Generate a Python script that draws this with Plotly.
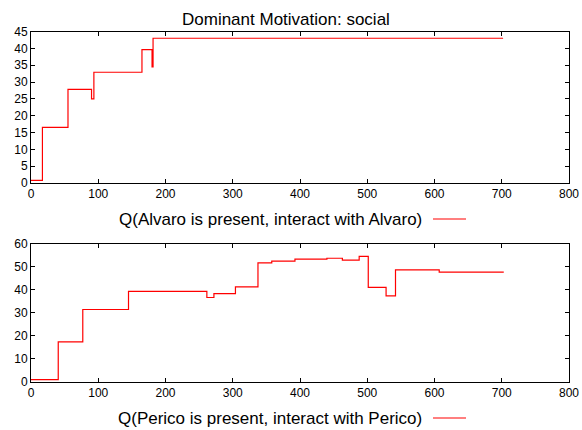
import plotly.graph_objects as go

# Top panel: Q(Alvaro is present, interact with Alvaro)
alvaro_x = [0, 17, 55, 90, 93.5, 165, 180, 181.5, 702]
alvaro_y = [0.8, 16.5, 27.8, 25.0, 32.9, 39.6, 34.5, 43.0, 43.0]

# Bottom panel: Q(Perico is present, interact with Perico)
perico_x = [0, 40.5, 77, 145, 261.5, 272, 304, 337.5, 358, 392.5, 440, 463,
            488, 501.5, 528, 542, 607, 703]
perico_y = [1.0, 17.4, 31.4, 39.3, 36.6, 38.3, 41.2, 51.6, 52.4, 53.2, 53.6,
            52.8, 54.4, 41.0, 37.3, 48.6, 47.6, 47.6]

title_text = "Dominant Motivation: social"
label_top = "Q(Alvaro is present, interact with Alvaro)"
label_bottom = "Q(Perico is present, interact with Perico)"

W, H = 582, 430
L, R = 31, 569

def px(x):
    return (x - L) / (R - L)

def py(y):
    return 1 - y / H

FONT = "Liberation Sans, Arial, Helvetica, sans-serif"

fig = go.Figure()
fig.add_trace(go.Scatter(x=alvaro_x, y=alvaro_y, mode="lines", line_shape="hv",
                         line=dict(color="#ff0000", width=1.2), xaxis="x", yaxis="y",
                         showlegend=False))
fig.add_trace(go.Scatter(x=perico_x, y=perico_y, mode="lines", line_shape="hv",
                         line=dict(color="#ff0000", width=1.2), xaxis="x2", yaxis="y2",
                         showlegend=False))

axis_common = dict(showgrid=False, zeroline=False, showline=True, linecolor="black",
                   linewidth=1, mirror="allticks", ticks="inside", ticklen=4,
                   tickcolor="black", automargin=False,
                   tickfont=dict(family=FONT, size=12, color="black"))

fig.update_layout(
    width=W, height=H,
    margin=dict(l=L, r=W - R, t=0, b=0, autoexpand=False),
    paper_bgcolor="white", plot_bgcolor="white",
    font=dict(family=FONT, color="black"),
    xaxis=dict(domain=[0, 1], range=[0, 800], dtick=100, anchor="y", **axis_common),
    yaxis=dict(domain=[py(183), py(31.5)], range=[0, 45], dtick=5, anchor="x", **axis_common),
    xaxis2=dict(domain=[0, 1], range=[0, 800], dtick=100, anchor="y2", **axis_common),
    yaxis2=dict(domain=[py(382), py(243.5)], range=[0, 60], dtick=10, anchor="x2", **axis_common),
)

ann = [
    dict(text=title_text, x=px(286), y=py(19), xanchor="center", yanchor="middle",
         font=dict(size=17)),
    dict(text=label_top, x=px(424), y=py(219), xanchor="right", yanchor="middle",
         font=dict(size=17)),
    dict(text=label_bottom, x=px(424), y=py(418), xanchor="right", yanchor="middle",
         font=dict(size=17)),
]
for a in ann:
    fig.add_annotation(xref="paper", yref="paper", showarrow=False, **a)

for yy in (219, 418):
    fig.add_shape(type="line", xref="paper", yref="paper",
                  x0=px(433), x1=px(466), y0=py(yy), y1=py(yy),
                  line=dict(color="#ff0000", width=1.2))

fig.write_html(
    "out.html",
    config={"displayModeBar": False},
    post_script="document.body.style.margin='0';document.body.style.padding='0';"
                "document.body.style.overflow='hidden';",
)
